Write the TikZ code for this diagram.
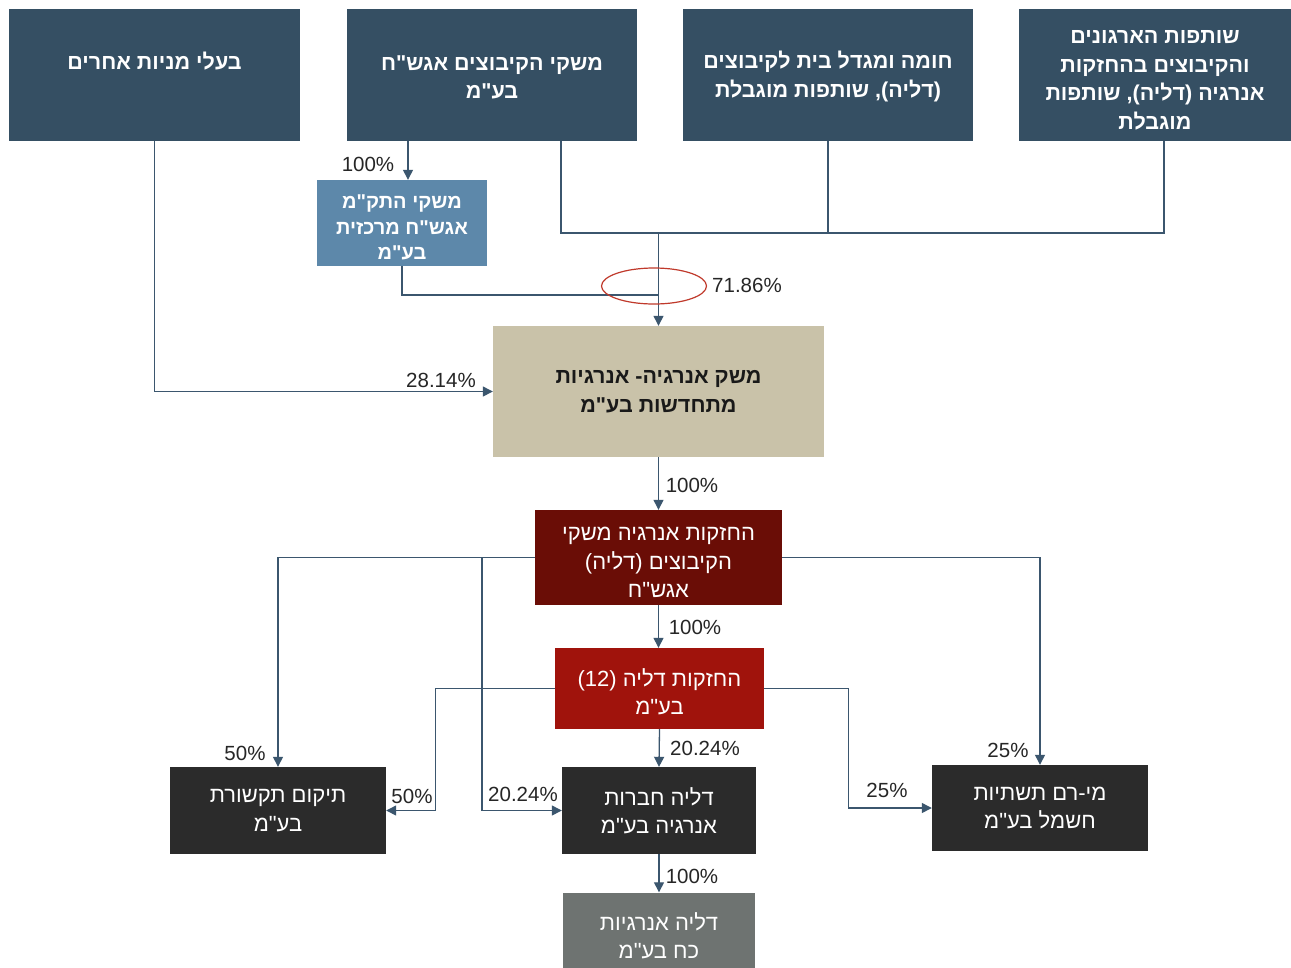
\documentclass[tikz,border=0pt]{standalone}
\usepackage{fontspec}
\usetikzlibrary{arrows.meta,shapes.geometric}
\TeXXeTstate=1
\newfontfamily\heb[Script=Hebrew]{Liberation Sans}
\newfontfamily\lab{Liberation Sans}
\newcommand{\hl}[1]{\beginR #1\endR}
\definecolor{topc}{HTML}{354F63}
\definecolor{lblue}{HTML}{5D88AA}
\definecolor{tan}{HTML}{C9C2A9}
\definecolor{dred}{HTML}{6A0D06}
\definecolor{mred}{HTML}{A0130C}
\definecolor{dark}{HTML}{2B2B2B}
\definecolor{gray1}{HTML}{6E7371}
\definecolor{linec}{HTML}{3B566E}
\definecolor{ringc}{HTML}{C0392B}
\tikzset{
  box/.style={rectangle, inner sep=0pt, align=center, text=white},
  topbox/.style={box, fill=topc, minimum height=132pt, font=\heb\bfseries\fontsize{21.5}{28.7}\selectfont},
  lowbox/.style={box, font=\heb\fontsize{22}{28.5}\selectfont},
  conn/.style={draw=linec, line width=1.3pt},
  arr/.style={conn, -{Triangle[length=10pt,width=10pt]}},
  pct/.style={font=\lab\fontsize{20.5}{22}\selectfont, text=black!85, inner sep=0pt}
}
\begin{document}
\begin{tikzpicture}[x=1pt,y=-1pt]
\useasboundingbox (0,0) rectangle (1291,967);
\clip (0,0) rectangle (1291,967);
\fill[white] (0,0) rectangle (1291,967);
% top row
\node[topbox, minimum width=291pt] (B1) at (154.5,75) {\hl{בעלי מניות אחרים}\\ \mbox{}};
\node[topbox, minimum width=290pt] (B2) at (492,75) {\rule{0pt}{19.5pt}\hl{משקי הקיבוצים אגש"ח}\\ \hl{בע"מ}};
\node[topbox, minimum width=290pt] (B3) at (828,75) {\rule{0pt}{21pt}\hl{חומה ומגדל בית לקיבוצים}\\ \hl{(דליה), שותפות מוגבלת}};
\node[topbox, minimum width=272pt] (B4) at (1155,75) {\rule{0pt}{23.5pt}\hl{שותפות הארגונים}\\ \hl{והקיבוצים בהחזקות}\\ \hl{אנרגיה (דליה), שותפות}\\ \hl{מוגבלת}};
% second level
\node[box, fill=lblue, minimum width=170pt, minimum height=86pt, font=\heb\bfseries\fontsize{20}{25.5}\selectfont] (M1) at (402,223) {\rule{0pt}{22.5pt}\hl{משקי התק"מ}\\ \hl{אגש"ח מרכזית}\\ \hl{בע"מ}};
\node[box, fill=tan, text=black!90, minimum width=331pt, minimum height=131pt, font=\heb\bfseries\fontsize{21.5}{28.5}\selectfont] (Main) at (658.5,391.5) {\hl{משק אנרגיה- אנרגיות}\\ \hl{מתחדשות בע"מ}};
\node[lowbox, fill=dred, minimum width=247pt, minimum height=95pt] (H1) at (658.5,557.5) {\rule{0pt}{24pt}\hl{החזקות אנרגיה משקי}\\ \hl{הקיבוצים (דליה)}\\ \hl{אגש"ח}};
\node[lowbox, fill=mred, minimum width=209pt, minimum height=81pt] (H2) at (659.5,688.5) {\rule{0pt}{24pt}\hl{החזקות דליה \beginL(12)\endL}\\ \hl{בע"מ}};
\node[lowbox, fill=dark, minimum width=216pt, minimum height=87pt] (T) at (278,810.5) {\hl{תיקום תקשורת}\\ \hl{בע"מ}};
\node[lowbox, fill=dark, minimum width=194pt, minimum height=87pt] (D) at (659,810.5) {\hl{דליה חברות}\\ \hl{אנרגיה בע"מ}};
\node[lowbox, fill=dark, minimum width=216pt, minimum height=86pt] (MR) at (1040,808) {\hl{מי-רם תשתיות}\\ \hl{חשמל בע"מ}};
\node[lowbox, fill=gray1, minimum width=192pt, minimum height=86pt] (DA) at (659,935.5) {\hl{דליה אנרגיות}\\ \hl{כח בע"מ}};
% hubs
\coordinate (hub) at (658.5,233);
\coordinate (hub2) at (658.5,295);
\coordinate (s1) at (482,557.5);
% connectors top
\draw[arr] ([xshift=-84pt]B2.south) -- ([xshift=6pt]M1.north);
\draw[conn] ([xshift=69pt]B2.south) |- ([xshift=9pt]B4.south |- hub) -- ([xshift=9pt]B4.south);
\draw[conn] (B3.south) -- (B3.south |- hub);
\draw[conn] (M1.south) |- (hub2);
\draw[arr] (hub) -- (Main.north);
\draw[arr] (B1.south) |- (Main.west);
\node[draw=ringc, line width=1.2pt, ellipse, minimum width=105pt, minimum height=36pt] (ring) at (654,286) {};
% connectors lower
\draw[arr] (Main.south) -- (H1.north);
\draw[arr] (H1.south) -- (H1.south |- H2.north);
\draw[arr] (H1.west) -| (T.north);
\draw[arr] (s1) |- (D.west);
\draw[arr] (H1.east) -| (MR.north);
\draw[arr] (H2.west) -- ++(-119,0) |- (T.east);
\draw[arr] (H2.east) -- ++(84,0) |- (MR.west);
\draw[arr] (H2.south) -- (D.north);
\draw[arr] (D.south) -- (DA.north);
% labels
\node[pct] (p1) at (368,164) {100\%};
\node[pct] (p2) at (747,285) {71.86\%};
\node[pct] (p3) at (441,380) {28.14\%};
\node[pct] (p4) at (692,485) {100\%};
\node[pct] (p5) at (695,627) {100\%};
\node[pct] (p6) at (245,753) {50\%};
\node[pct] (p7) at (523,794) {20.24\%};
\node[pct] (p8) at (412,796) {50\%};
\node[pct] (p9) at (705,748) {20.24\%};
\node[pct] (p10) at (1008,750) {25\%};
\node[pct] (p11) at (887,790) {25\%};
\node[pct] (p12) at (692,876) {100\%};
\end{tikzpicture}
\end{document}
